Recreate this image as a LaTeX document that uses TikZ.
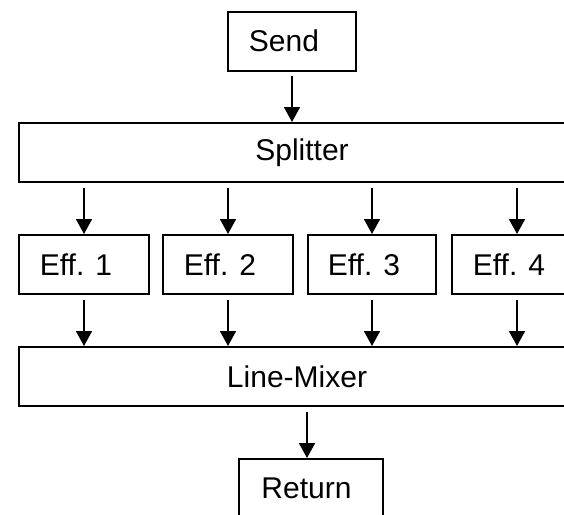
\documentclass[tikz,border=0pt]{standalone}
\usepackage{fontspec}
\setmainfont{Liberation Sans}
\usetikzlibrary{arrows.meta}
\begin{document}
\begin{tikzpicture}[x=1pt,y=-1pt,
  box/.style={draw=black,line width=2pt,fill=white,inner sep=0pt,minimum height=59pt,
    font=\fontsize{30}{36}\selectfont},
  arr/.style={line width=1.8pt,-{Triangle[width=16pt,length=15pt]},shorten <=4.5pt}]
\useasboundingbox (0,0) rectangle (564,514);
\clip (0,0) rectangle (564,514);
\fill[white] (0,0) rectangle (564,514);
\node[box,minimum width=128pt] (send) at (292,41) {Send\kern16pt};
\node[box,minimum width=556pt] (split) at (297,152.5) {\kern10pt Splitter};
\node[box,minimum width=130pt] (e1) at (84,264.5) {Eff. 1\kern16pt};
\node[box,minimum width=130pt] (e2) at (228,264.5) {Eff. 2\kern16pt};
\node[box,minimum width=128pt] (e3) at (372,264.5) {Eff. 3\kern16pt};
\node[box,minimum width=130pt] (e4) at (517,264.5) {Eff. 4\kern16pt};
\node[box,minimum width=556pt] (lm) at (297,376.5) {Line-Mixer};
\node[box,minimum width=144pt] (ret) at (311,488.5) {Return\kern9pt};
\draw[arr] (send.south) -- (send.south |- split.north);
\foreach \e in {e1,e2,e3,e4}{
  \draw[arr] (split.south -| \e.north) -- (\e.north);
  \draw[arr] (\e.south) -- (\e.south |- lm.north);
}
\draw[arr] ([xshift=-4pt]lm.south -| ret.north) -- ([xshift=-4pt]ret.north);
\end{tikzpicture}
\end{document}
